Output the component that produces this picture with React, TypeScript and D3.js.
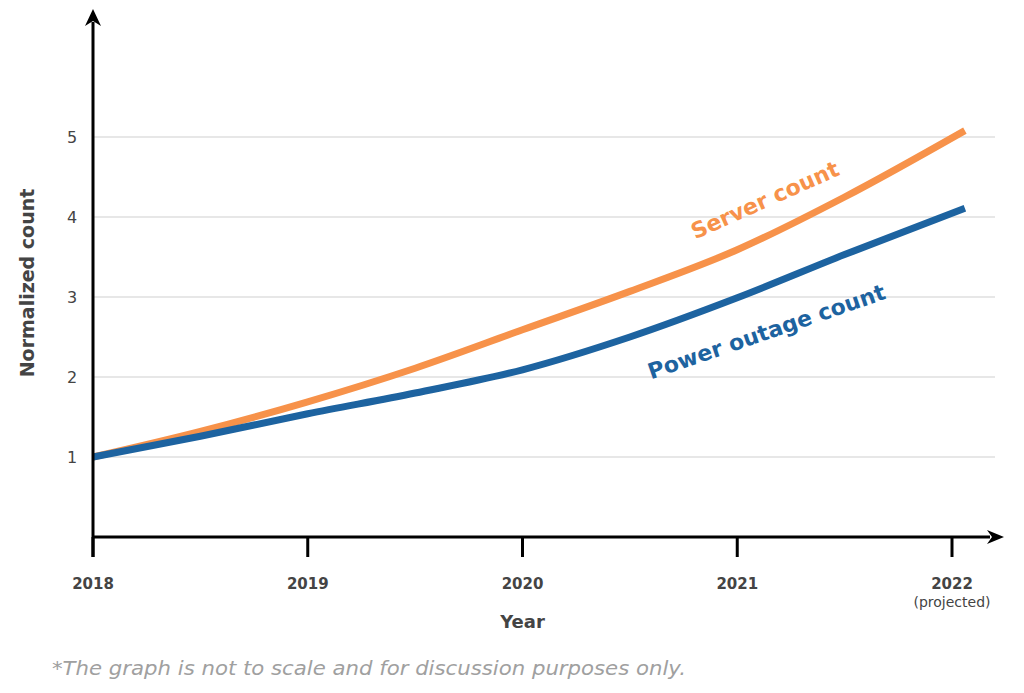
import React from 'react';
import * as d3 from 'd3';

// values (normalized count, 2018 = 1)
const years = [2018, 2019, 2020, 2021, 2022];
const yTicks = [1, 2, 3, 4, 5];
const serverX = [2018, 2018.5, 2019, 2019.5, 2020, 2020.5, 2021, 2021.5, 2022.06];
const serverY = [1.0, 1.32, 1.69, 2.11, 2.59, 3.07, 3.59, 4.25, 5.08];
const outageX = [2018, 2018.5, 2019, 2019.5, 2020, 2020.5, 2021, 2021.5, 2022.06];
const outageY = [1.0, 1.26, 1.54, 1.8, 2.09, 2.5, 2.99, 3.53, 4.11];

const W = 1024;
const H = 693;
const FONT = '"DejaVu Sans", "Noto Sans", sans-serif';

const App: React.FC = () => {
  const x = d3.scaleLinear().domain([2018, 2022]).range([93, 952]);
  const y = d3.scaleLinear().domain([0, 5]).range([537, 137]);

  const line = d3
    .line<[number, number]>()
    .x((d) => x(d[0]))
    .y((d) => y(d[1]))
    .curve(d3.curveMonotoneX);

  const server = serverX.map((v, i) => [v, serverY[i]] as [number, number]);
  const outage = outageX.map((v, i) => [v, outageY[i]] as [number, number]);

  const x0 = x(2018);
  const y0 = y(0);

  return (
    <svg
      width={W}
      height={H}
      viewBox={`0 0 ${W} ${H}`}
      style={{ position: 'absolute', left: 0, top: 0, background: '#fff' }}
      fontFamily={FONT}
    >
      {/* grid */}
      {yTicks.map((t) => (
        <line key={t} x1={x0} x2={995} y1={y(t)} y2={y(t)} stroke="#cfcfcf" strokeWidth={1} />
      ))}
      {yTicks.map((t) => (
        <text key={'l' + t} x={72} y={y(t) + 6} textAnchor="middle" fontSize={16} fill="#444">
          {t}
        </text>
      ))}

      {/* series */}
      <path d={line(server) || ''} fill="none" stroke="#F7924A" strokeWidth={7} strokeLinecap="butt" />
      <path d={line(outage) || ''} fill="none" stroke="#1D63A0" strokeWidth={7} strokeLinecap="butt" />

      {/* axes */}
      <line x1={x0} x2={x0} y1={y0 + 20} y2={22} stroke="#000" strokeWidth={3} />
      <path d={`M${x0 - 8},${26} L${x0},${9} L${x0 + 8},${26} L${x0},${21} Z`} fill="#000" />
      <line x1={x0} x2={990} y1={y0} y2={y0} stroke="#000" strokeWidth={3} />
      <path d={`M${987},${y0 - 7} L${1004},${y0} L${987},${y0 + 7} L${992},${y0} Z`} fill="#000" />
      {years.map((yr) => (
        <g key={yr}>
          <line x1={x(yr)} x2={x(yr)} y1={y0} y2={y0 + 20} stroke="#000" strokeWidth={3} />
          <text x={x(yr)} y={589} textAnchor="middle" fontSize={15} fontWeight={600} fill="#444">
            {yr}
          </text>
        </g>
      ))}
      <text x={x(2022)} y={607} textAnchor="middle" fontSize={14} fill="#444">
        (projected)
      </text>

      {/* axis titles */}
      <text x={x(2020)} y={628} textAnchor="middle" fontSize={18} fontWeight={600} fill="#444">
        Year
      </text>
      <text
        transform={`translate(34,${283}) rotate(-90)`}
        textAnchor="middle"
        fontSize={19}
        fontWeight={600}
        fill="#444"
      >
        Normalized  count
      </text>

      {/* series labels */}
      <text
        transform="translate(768,207) rotate(-24)"
        textAnchor="middle"
        fontSize={22}
        fontWeight={600}
        fill="#F7924A"
      >
        Server count
      </text>
      <text
        transform="translate(769,339) rotate(-19)"
        textAnchor="middle"
        fontSize={22}
        fontWeight={600}
        fill="#1D63A0"
      >
        Power outage count
      </text>

      {/* footnote */}
      <text x={52} y={675} fontSize={20} fontStyle="italic" fill="#a0a0a0" textLength={634} lengthAdjust="spacingAndGlyphs">
        *The graph is not to scale and for discussion purposes only.
      </text>
    </svg>
  );
};

export default App;
